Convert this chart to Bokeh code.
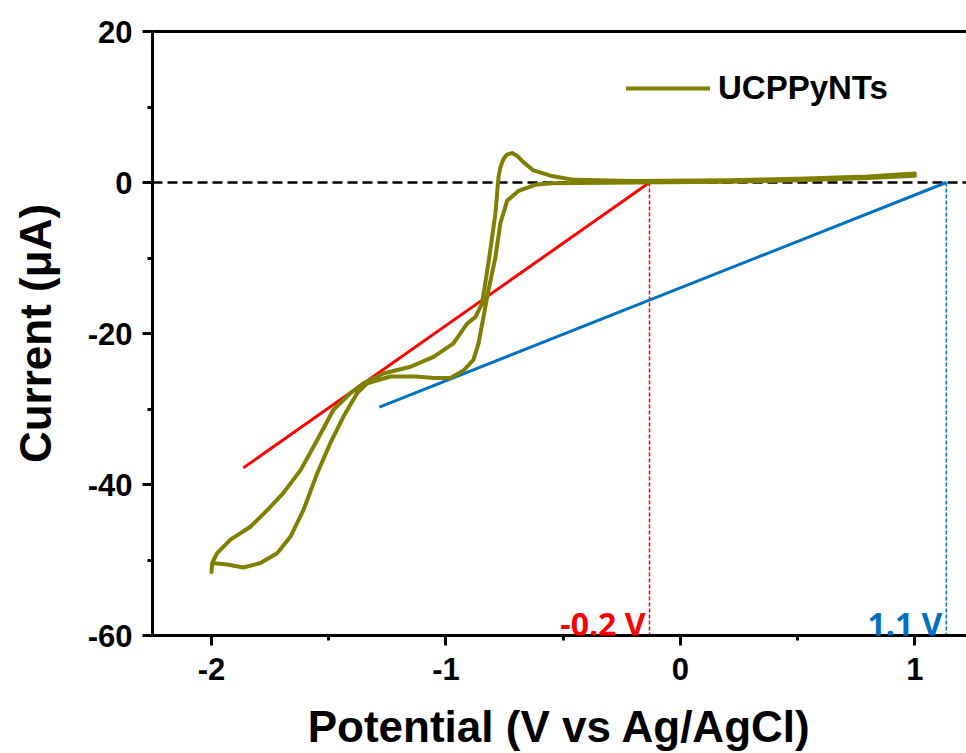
from bokeh.plotting import figure
from bokeh.models import LinearAxis, FixedTicker, Label, Legend, LegendItem
from bokeh.embed import file_html
from bokeh.resources import INLINE

# ---- data ----
# cyclic voltammogram: forward (outer) branch from +1 V to -2 V
branch_a_potential = [1.0, 0.8, 0.5, 0.2, -0.2, -0.45, -0.483, -0.554, -0.627, -0.670,
                      -0.695, -0.718, -0.740, -0.755, -0.768, -0.776, -0.789, -0.819, -0.846,
                      -0.874, -0.910, -0.968, -1.053, -1.151, -1.267, -1.352, -1.407, -1.48,
                      -1.549, -1.62, -1.693, -1.762, -1.834, -1.919, -1.976, -1.997, -2.0]
branch_a_current = [1.2, 0.8, 0.5, 0.3, 0.2, 0.35, 0.5, 0.9, 1.6, 2.7,
                    3.5, 3.9, 3.7, 3.1, 2.0, 0.7, -4.1, -10.7, -16.0,
                    -17.8, -18.7, -21.3, -23.1, -24.4, -25.3, -26.6, -27.9, -30.1,
                    -34.1, -38.1, -41.1, -43.4, -45.6, -47.3, -49.1, -50.4, -51.6]
# reverse (inner) branch from -2 V back to +1 V
branch_b_potential = [-2.0, -1.997, -1.933, -1.864, -1.791, -1.72, -1.663, -1.608, -1.549,
                      -1.493, -1.437, -1.379, -1.336, -1.237, -1.13, -1.05, -0.981, -0.925,
                      -0.883, -0.861, -0.840, -0.819, -0.789, -0.768, -0.739, -0.69, -0.62,
                      -0.55, -0.2, 0.2, 0.5, 0.8, 1.0]
branch_b_current = [-51.6, -50.4, -50.6, -51.0, -50.4, -49.1, -46.9, -43.4, -38.5,
                    -34.5, -31.0, -27.9, -26.6, -25.7, -25.7, -25.9, -25.9, -24.9,
                    -23.5, -21.3, -17.8, -14.3, -9.9, -5.4, -2.4, -1.1, -0.3,
                    -0.1, 0.0, 0.1, 0.3, 0.6, 0.9]
cv_potential = branch_a_potential + branch_b_potential
cv_current = branch_a_current + branch_b_current

red_tangent_x = [-1.864, -0.132]
red_tangent_y = [-37.8, 0.0]
blue_tangent_x = [-1.284, 1.134]
blue_tangent_y = [-29.75, 0.0]
onset_values = [-0.132, 1.134]
onset_labels = ["-0.2 V", "1.1 V"]
onset_colors = ["#ff0000", "#0070c0"]

x_ticks = [-2, -1, 0, 1]
x_tick_labels = ["-2", "-1", "0", "1"]
y_ticks = [-60, -40, -20, 0, 20]
y_tick_labels = ["-60", "-40", "-20", "0", "20"]

series_name = "UCPPyNTs"
x_title = "Potential (V vs Ag/AgCl)"
y_title = "Current (\u03bcA)"

# ---- figure ----
p = figure(width=966, height=753, output_backend="svg", toolbar_location=None,
           x_range=(-2.2516, 1.22), y_range=(-60, 20),
           min_border_left=152, min_border_right=0, min_border_top=31,
           min_border_bottom=118)
p.outline_line_color = None
p.xgrid.visible = False
p.ygrid.visible = False
p.background_fill_color = "white"
p.border_fill_color = "white"

TICK_FONT = "Liberation Sans"
for ax in (p.xaxis[0], p.yaxis[0]):
    ax.axis_line_width = 3
    ax.major_tick_line_width = 3
    ax.minor_tick_line_width = 3
    ax.major_tick_in = 0
    ax.major_tick_out = 10
    ax.minor_tick_in = 0
    ax.minor_tick_out = 5
    ax.major_label_text_font = TICK_FONT
    ax.major_label_text_font_style = "bold"
    ax.major_label_text_font_size = "31px"
    ax.major_label_text_color = "black"
    ax.axis_label_text_font = TICK_FONT
    ax.axis_label_text_font_style = "bold"
    ax.axis_label_text_font_size = "44px"
    ax.axis_label_text_color = "black"

p.xaxis[0].ticker = FixedTicker(ticks=x_ticks, minor_ticks=[-2.0, -1.5, -1.0, -0.5, 0.0, 0.5, 1.0])
p.yaxis[0].ticker = FixedTicker(ticks=y_ticks, minor_ticks=[-60, -50, -40, -30, -20, -10, 0, 10, 20])
p.xaxis[0].major_label_overrides = {t: s for t, s in zip(x_ticks, x_tick_labels)}
p.yaxis[0].major_label_overrides = {t: s for t, s in zip(y_ticks, y_tick_labels)}
p.xaxis[0].axis_label = x_title
p.yaxis[0].axis_label = y_title
p.xaxis[0].major_label_standoff = 12
p.yaxis[0].major_label_standoff = 10
p.xaxis[0].axis_label_standoff = 19
p.yaxis[0].axis_label_standoff = 25

top_axis = LinearAxis(ticker=FixedTicker(ticks=[]), axis_line_width=3,
                      major_tick_out=0, minor_tick_out=0, major_tick_in=0, minor_tick_in=0,
                      major_label_text_font_size="0px")
p.add_layout(top_axis, "above")

# zero line
p.line(x=[-2.2516, 1.22], y=[0, 0], line_color="black", line_width=2.5, line_dash="10 5")

# onset markers
for xv, col in zip(onset_values, onset_colors):
    p.line(x=[xv, xv], y=[0, -60], line_color=col, line_width=1.5, line_dash="4 2")

# tangents
p.line(x=red_tangent_x, y=red_tangent_y, line_color="#ff0000", line_width=3)
p.line(x=blue_tangent_x, y=blue_tangent_y, line_color="#0070c0", line_width=3)

# CV curve
cv = p.line(x=cv_potential, y=cv_current, line_color="#808000", line_width=4,
            line_join="round", line_cap="round")

for xv, lab, col in zip(onset_values, onset_labels, onset_colors):
    p.add_layout(Label(x=xv, y=-58.4, text=lab, x_offset=-4, text_align="right",
                       text_baseline="alphabetic", text_color=col,
                       text_font="Open Sans", text_font_style="bold",
                       text_font_size="32px"))

legend = Legend(items=[LegendItem(label=series_name, renderers=[cv])],
                location=(474, 528), padding=0, margin=0, spacing=0,
                glyph_width=84, glyph_height=20, label_standoff=8,
                label_text_font=TICK_FONT, label_text_font_style="bold",
                label_text_font_size="33px", label_text_color="black",
                border_line_color=None, background_fill_alpha=0)
p.add_layout(legend, "center")

open("out.html", "w").write(file_html(p, INLINE))
